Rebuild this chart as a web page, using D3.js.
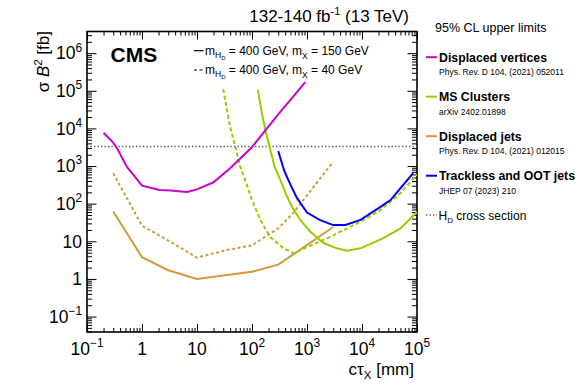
<!DOCTYPE html>
<html><head><meta charset="utf-8">
<script src="https://cdn.jsdelivr.net/npm/d3@7"></script>
<style>body{margin:0;background:#fff} text{font-family:"Liberation Sans",Arial,Helvetica,sans-serif;fill:#000}</style>
</head><body><svg id="c" width="580" height="390"></svg>
<script>
// ---- data ----
const dvX = [0.2,0.3,0.35,0.53,1,2.1,3.3,6.6,10,20,40,100,187,350,500,930];
const dvY = [7700,4200,3000,960,300,230,225,205,240,370,870,3200,10000,31000,57000,170000];
const djSolidX = [0.3,1,3,10,35,100,300,3000];
const djSolidY = [62,3.8,1.7,1.0,1.27,1.55,2.4,24];
const djDashX = [0.3,1,3,10,35,100,300,570,3000];
const djDashY = [640,26,10.5,3.7,5.9,7.8,22,58,1300];
const msSolidX = [128,152,175,209,257,327,433,533,755,1150,2000,3500,5300,9400,24000,50000,100000];
const msSolidY = [105000,25000,9100,3200,960,427,155,83,37,18,9,6.5,5.6,6.5,12,22,60];
const msDashX = [30,35,40,50,61,75,100,142,214,376,570,1000,2300,9400,21000,50000,100000];
const msDashY = [110000,31000,11000,3200,960,430,126,37,13,6.5,4.8,7,12,33,65,190,600];
const tkX = [300,380,430,500,660,1000,1700,3000,5000,9400,21000,33000,50000,85000];
const tkY = [2500,800,520,320,140,58,37,27,27,37,80,125,257,650];
const hdXsec = 3300;
const xMajors = [0.1,1,10,100,1000,1e4,1e5];
const xLabels = [["10","\u22121"],["1",""],["10",""],["10","2"],["10","3"],["10","4"],["10","5"]];
const yMajors = [0.1,1,10,100,1000,1e4,1e5,1e6];
const yLabels = [["10","\u22121"],["1",""],["10",""],["10","2"],["10","3"],["10","4"],["10","5"],["10","6"]];

const MAG="#cc00cc", GRN="#99cc00", ORA="#d49a3a", BLU="#0000ff";

const svg = d3.select("#c");
const X0=87, X1=417, Y0=332, Y1=31.5;
const x = d3.scaleLog().domain([0.1,1e5]).range([X0,X1]);
const y = d3.scaleLog().domain([Math.pow(10,-1.41),Math.pow(10,6.575)]).range([Y0,Y1]);

svg.append("defs").append("clipPath").attr("id","clip")
  .append("rect").attr("x",X0).attr("y",Y1).attr("width",X1-X0).attr("height",Y0-Y1);

function minors(lo,hi){const a=[];for(let d=lo;d<=hi;d++)for(let k=2;k<=9;k++){const v=k*Math.pow(10,d);a.push(v);}return a;}
const xMin = minors(-1,4).filter(v=>v>=0.1&&v<=1e5);
const yMin = minors(-2,6).filter(v=>v>=y.domain()[0]&&v<=y.domain()[1]);

function axisG(axis, tx, ty){
  const g = svg.append("g").attr("transform",`translate(${tx},${ty})`).call(axis);
  g.select(".domain").remove();
  g.selectAll(".tick line").attr("stroke","#000").attr("stroke-width",1);
  return g;
}
// x ticks bottom/top
axisG(d3.axisBottom(x).tickValues(xMajors).tickSize(-8).tickFormat(""),0,Y0);
axisG(d3.axisBottom(x).tickValues(xMin).tickSize(-4).tickFormat(""),0,Y0);
axisG(d3.axisTop(x).tickValues(xMajors).tickSize(-8).tickFormat(""),0,Y1);
axisG(d3.axisTop(x).tickValues(xMin).tickSize(-4).tickFormat(""),0,Y1);
// y ticks left/right
axisG(d3.axisLeft(y).tickValues(yMajors).tickSize(-9.5).tickFormat(""),X0,0);
axisG(d3.axisLeft(y).tickValues(yMin).tickSize(-5).tickFormat(""),X0,0);
axisG(d3.axisRight(y).tickValues(yMajors).tickSize(-9.5).tickFormat(""),X1,0);
axisG(d3.axisRight(y).tickValues(yMin).tickSize(-5).tickFormat(""),X1,0);

// frame
svg.append("rect").attr("x",X0).attr("y",Y1).attr("width",X1-X0).attr("height",Y0-Y1)
  .attr("fill","none").attr("stroke","#000").attr("stroke-width",1.6);

// tick labels
function supLabel(g, base, sup, fs){
  g.append("tspan").text(base);
  if(sup){ g.append("tspan").attr("dy",-fs*0.45).attr("font-size",fs*0.68).text(sup); }
}
xMajors.forEach((v,i)=>{
  const t = svg.append("text").attr("x",x(v)).attr("y",355).attr("text-anchor","middle").attr("font-size",17.5);
  supLabel(t, xLabels[i][0], xLabels[i][1], 17.5);
});
yMajors.forEach((v,i)=>{
  const t = svg.append("text").attr("x",82).attr("y",y(v)+6.3).attr("text-anchor","end").attr("font-size",17.5);
  supLabel(t, yLabels[i][0], yLabels[i][1], 17.5);
});

// axis titles
const xt = svg.append("text").attr("x",414).attr("y",374.5).attr("text-anchor","end").attr("font-size",17);
xt.append("tspan").text("c\u03c4");
xt.append("tspan").attr("dy",4).attr("font-size",11.5).text("X");
xt.append("tspan").attr("dy",-4).text(" [mm]");

const yt = svg.append("text").attr("transform","translate(49,31) rotate(-90)").attr("text-anchor","end").attr("font-size",17);
yt.append("tspan").text("\u03c3 ");
yt.append("tspan").attr("font-style","italic").text("B");
yt.append("tspan").attr("dy",-7).attr("font-size",11.5).text("2");
yt.append("tspan").attr("dy",7).text(" [fb]");

// curves
const line = d3.line().x(d=>x(d[0])).y(d=>y(d[1]));
const plot = svg.append("g").attr("clip-path","url(#clip)");
plot.append("line").attr("x1",X0).attr("x2",X1).attr("y1",y(hdXsec)).attr("y2",y(hdXsec))
  .attr("stroke","#555").attr("stroke-width",1.3).attr("stroke-dasharray","1.3,2.2");
function curve(xs,ys,col,dash){
  plot.append("path").datum(xs.map((v,i)=>[v,ys[i]])).attr("d",line)
    .attr("fill","none").attr("stroke",col).attr("stroke-width",2).attr("stroke-dasharray",dash||null);
}
curve(djDashX,djDashY,ORA,"3,2.5");
curve(djSolidX,djSolidY,ORA);
curve(msDashX,msDashY,GRN,"4,2.5");
curve(msSolidX,msSolidY,GRN);
curve(tkX,tkY,BLU);
curve(dvX,dvY,MAG);

// CMS label
svg.append("text").attr("x",110.5).attr("y",61.7).attr("font-size",21).attr("font-weight","bold").text("CMS");

// in-plot legend
function mLine(yb, mx, dash){
  svg.append("line").attr("x1",194).attr("x2",203.5).attr("y1",yb-4.3).attr("y2",yb-4.3)
    .attr("stroke","#000").attr("stroke-width",1.2).attr("stroke-dasharray",dash||null);
  const t = svg.append("text").attr("x",205).attr("y",yb).attr("font-size",12);
  t.append("tspan").text("m");
  t.append("tspan").attr("dy",3).attr("font-size",8.5).text("H");
  t.append("tspan").attr("dy",2).attr("font-size",6).text("D");
  t.append("tspan").attr("dy",-5).text(" = 400 GeV, m");
  t.append("tspan").attr("dy",3.5).attr("font-size",8.5).text("X");
  t.append("tspan").attr("dy",-3.5).text(" = "+mx+" GeV");
}
mLine(55,150);
mLine(74.3,40,"3,2.5");

// title
const tt = svg.append("text").attr("x",409).attr("y",21.7).attr("text-anchor","end").attr("font-size",17);
tt.append("tspan").text("132-140 fb");
tt.append("tspan").attr("dy",-7).attr("font-size",11).text("-1");
tt.append("tspan").attr("dy",7).text(" (13 TeV)");

// right legend
svg.append("text").attr("x",435).attr("y",31.5).attr("font-size",12.5).text("95% CL upper limits");
const entries = [
  {name:"Displaced vertices", ref:"Phys. Rev. D 104, (2021) 052011", col:MAG},
  {name:"MS Clusters", ref:"arXiv 2402.01898", col:GRN},
  {name:"Displaced jets", ref:"Phys. Rev. D 104, (2021) 012015", col:ORA},
  {name:"Trackless and OOT jets", ref:"JHEP 07 (2023) 210", col:BLU}
];
entries.forEach((e,i)=>{
  const yb = 61.5 + i*39.5;
  svg.append("line").attr("x1",426).attr("x2",437).attr("y1",yb-4.3).attr("y2",yb-4.3)
    .attr("stroke",e.col).attr("stroke-width",2);
  svg.append("text").attr("x",439).attr("y",yb).attr("font-size",12.3).attr("font-weight","bold").text(e.name);
  svg.append("text").attr("x",439).attr("y",yb+13.8).attr("font-size",8.5).text(e.ref);
});
svg.append("line").attr("x1",426).attr("x2",437).attr("y1",215).attr("y2",215)
  .attr("stroke","#555").attr("stroke-width",1.3).attr("stroke-dasharray","1.3,2.2");
const hd = svg.append("text").attr("x",438.5).attr("y",219.5).attr("font-size",12);
hd.append("tspan").text("H");
hd.append("tspan").attr("dy",3).attr("font-size",8).text("D");
hd.append("tspan").attr("dy",-3).text(" cross section");
</script></body></html>
